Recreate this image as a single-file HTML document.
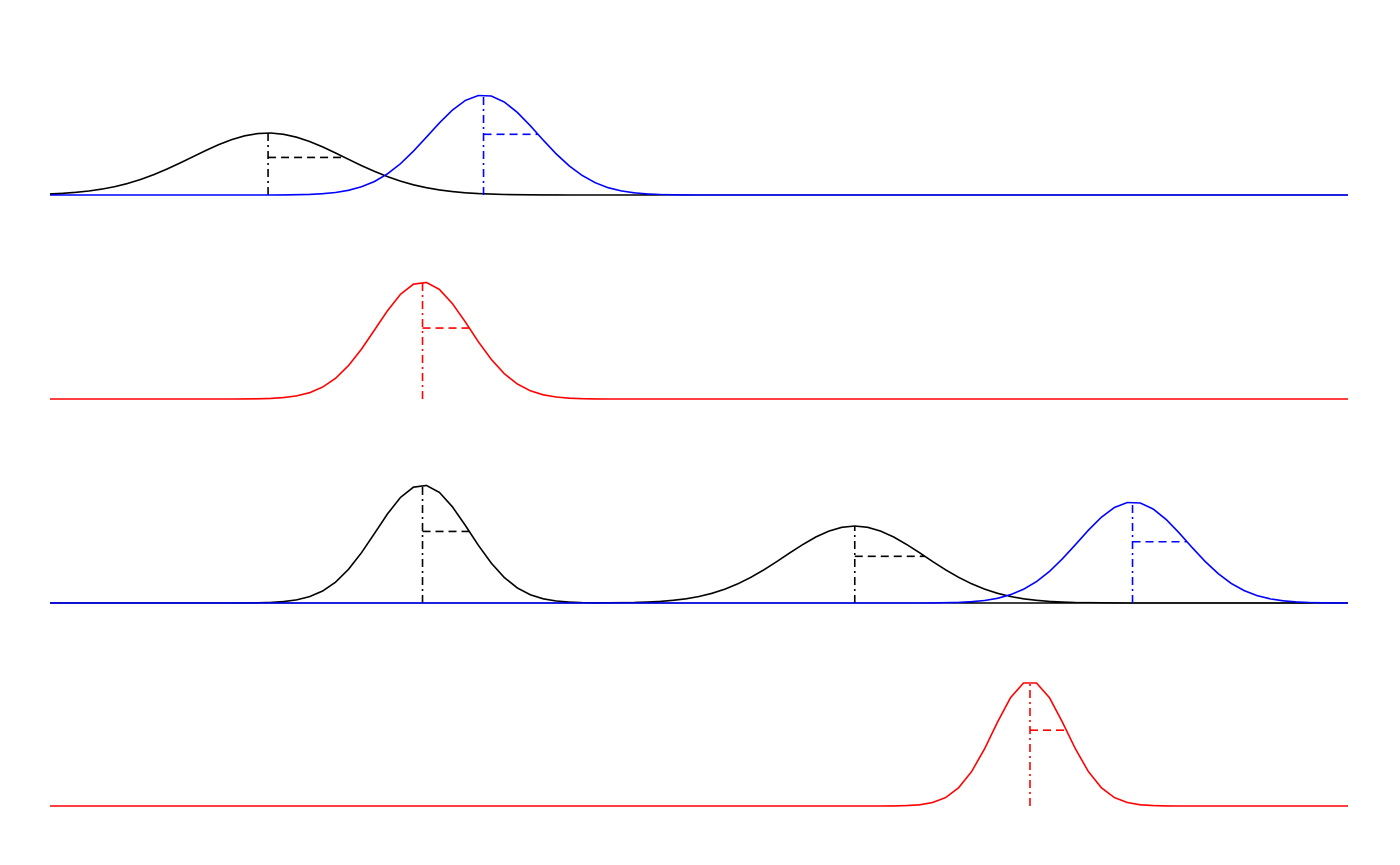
<!DOCTYPE html>
<html><head><meta charset="utf-8"><style>html,body{margin:0;padding:0;background:#fff}svg{display:block}</style></head>
<body>
<svg id="chart" width="1400" height="865" xmlns="http://www.w3.org/2000/svg"></svg>
<script>
// data
const rowBaselines = [195, 399, 603, 806];
const curveRows = [0, 0, 1, 2, 2, 2, 3];
const curveColors = ['#000', '#00f', '#f00', '#000', '#000', '#00f', '#f00'];
const curveMeans = [16.8, 33.4, 28.7, 28.7, 62.0, 83.4, 75.5];
const curveSds = [5.9, 4.2, 3.6, 3.6, 5.4, 4.2, 2.8];
const curvePeaks = [62, 100, 117, 118, 77, 101, 125];
const xDomain = [0, 100];
const nSamples = 100;

const svg = document.getElementById('chart');
const NS = 'http://www.w3.org/2000/svg';
const xs = v => 50 + (v - xDomain[0]) / (xDomain[1] - xDomain[0]) * 1298;
const ys = (row, h) => rowBaselines[row] - h;

function mk(tag, attrs) {
  const e = document.createElementNS(NS, tag);
  for (const k in attrs) e.setAttribute(k, attrs[k]);
  svg.appendChild(e);
  return e;
}

curveMeans.forEach((m, i) => {
  const row = curveRows[i], sd = curveSds[i], pk = curvePeaks[i], col = curveColors[i];
  const pts = [];
  for (let k = 0; k <= nSamples; k++) {
    const v = xDomain[0] + (xDomain[1] - xDomain[0]) * k / nSamples;
    const d = pk * Math.exp(-0.5 * ((v - m) / sd) ** 2);
    pts.push(xs(v).toFixed(1) + ',' + ys(row, d).toFixed(1));
  }
  const pl = mk('polyline', {points: pts.join(' '), fill: 'none', stroke: col, 'stroke-width': 1.6});
  
  
  const vl = mk('line', {x1: xs(m), x2: xs(m), y1: rowBaselines[row], y2: ys(row, pk), stroke: col, 'stroke-width': 1.6, 'stroke-dasharray': '8,4,2,4'});
  
  
  const hy = ys(row, pk * Math.exp(-0.5));
  const hl = mk('line', {x1: xs(m), x2: xs(m + sd), y1: hy, y2: hy, stroke: col, 'stroke-width': 1.6, 'stroke-dasharray': '8,5'});
  
  
});
</script>
</body></html>
